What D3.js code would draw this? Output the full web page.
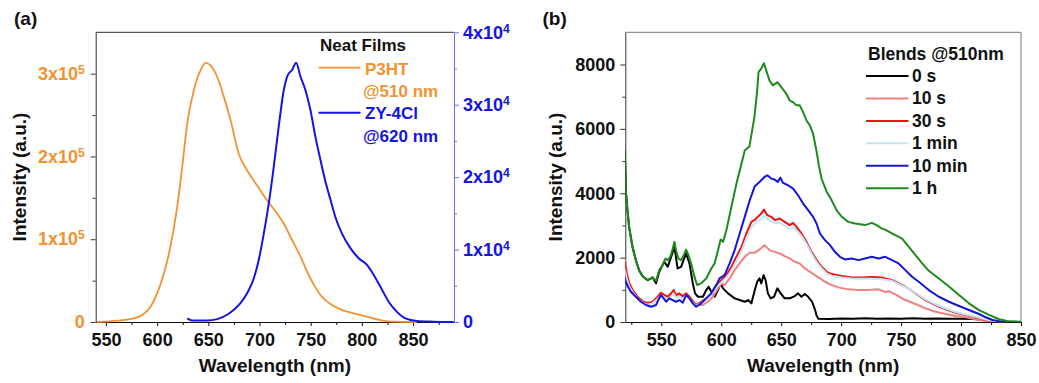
<!DOCTYPE html>
<html><head><meta charset="utf-8">
<script src="https://cdn.jsdelivr.net/npm/d3@7"></script>
<style>
body{margin:0;background:#fff}
svg text{font-family:"Liberation Sans",Arial,sans-serif;font-weight:bold}
</style>
</head><body><svg id="c" width="1039" height="383"></svg>
<script>
// ---------- Panel (a) data: neat films ----------
const p3htWl  = [541.5,561,577.3,585.5,593.6,600,606.6,613,619.6,624.5,629.4,635.9,642.4,647.3,652.1,658.7,665.2,671.7,679.8,688,697.7,707.4,717.2,723.7,730.2,740,749.7,759.5,769.3,779,792,805,818,831,853.8];
const p3htInt = [0,1600,4400,8400,18500,34600,58700,90900,139000,187000,240000,280000,304000,313000,310000,296000,272000,244000,203000,183000,165000,147000,131000,119000,103000,79000,52700,32600,21700,15300,10500,6400,2400,400,0];
const zyWl  = [629.4,634.3,648.9,658.7,668.4,674.9,681.4,688,694.4,699.3,704.2,709.1,714,718.8,723.7,727.6,731.9,735.8,740,744.9,749.7,754.6,759.5,764.4,769.3,774.1,780.6,788.8,796.9,805,811.6,818,826.2,834.3,842.5,853.8,870,889.6];
const zyInt = [500,200,200,400,1000,1700,2600,4000,6000,8600,12200,16400,21500,27000,32000,34100,34800,35800,33900,32000,29300,25600,22400,19400,16900,14500,12200,10200,8800,7900,6500,4900,2800,1400,500,140,50,0];
const xTicksA = [550,600,650,700,750,800,850];
const yTicksA = [0,100000,200000,300000];
const yTicksA2 = [0,10000,20000,30000,40000];
const legendA = ["Neat Films","P3HT","@510 nm","ZY-4Cl","@620 nm"];

// ---------- Panel (b) data: blends @510 nm ----------
const seriesNamesB = ["0 s","10 s","30 s","1 min","10 min","1 h"];
const wl0s  = [519.6,520.4,521.8,523.2,526,528.8,531.5,534.4,538.6,542.8,545.6,548.3,552.5,555.4,557.6,561,563.6,566.5,570.7,573.5,576.3,578.2,580.6,584.7,587.5,589.5,591.7,594.5,597.3,599.5,601.5,605.7,611.2,615.4,619.6,622.4,625.2,628,630,631.9,633.4,635.3,637,638.9,641.2,644,646.8,649.6,652.9,657.1,661.3,664.1,666.9,669.7,672.5,675.8,678.1,679.5,681,690,700,710,720,730,740,750,760,770,780,790,800,810,820,830];
const int0s = [5330,4090,3470,2950,2330,1920,1610,1420,1300,1380,1200,1560,1870,1715,1950,2335,1664,1715,2129,1819,1198,889,784,784,992,1096,940,784,992,1199,1044,889,734,682,629,682,579,992,1250,1354,1199,1457,1302,889,734,784,1044,889,734,734,806,889,784,868,784,629,393,200,100,90,110,100,120,100,110,100,120,100,110,100,100,90,60,10];
const wl10s  = [519.6,521.2,523.2,526,530.2,535.7,541.4,547,551.2,555.4,561,565.1,570.7,574.9,579.1,584.7,588.9,593.1,597.3,600.1,602.8,607,611.2,615.4,619.6,623.8,627.7,631.9,636.1,640.3,644.5,648.7,652.9,657.1,661.3,665.5,669.7,673.9,678.1,682.3,686.5,692.1,697.6,706,714.4,722.8,731.2,736.8,739.6,745.2,753.5,762,770.3,778.7,787.1,795.5,803.9,812.2,820.6,826.3];
const int10s = [1950,1560,1250,992,784,629,579,734,868,784,868,806,868,734,527,527,629,784,1044,1199,1147,1354,1612,1819,2025,2150,2150,2250,2388,2233,2180,2129,2046,1975,1870,1819,1665,1560,1457,1355,1250,1147,1076,1014,992,992,1014,930,960,860,682,558,424,320,248,186,146,83,31,10];
const wl30s  = [519.6,521.2,523.2,526,530.2,534.4,538.6,542.8,547,549.8,552.5,555.4,558.1,560.4,562.3,565.1,568,570.7,573.5,576.3,579.1,583.3,587.5,591.7,595.9,600.1,604.3,608.5,612.7,616.9,621,625.2,627.7,630.5,633.4,635.6,638.4,641.7,645.1,648.7,652.9,657.1,659.9,662.7,666.9,671.1,675.3,679.5,683.7,687.9,692.1,700.5,708.9,717.2,725.6,734,736.8,742.4,745.2,753.5,762,770.3,778.7,787.1,795.5,803.9,812.2,820.6,829,834.6];
const int30s = [1870,1457,1199,992,784,629,579,629,784,909,837,784,889,992,837,889,784,889,784,629,527,629,734,889,1147,1302,1457,1715,2025,2335,2750,3110,3163,3266,3370,3494,3318,3266,3163,3215,3110,3008,3080,2955,2750,2490,2180,1922,1715,1560,1488,1426,1386,1386,1400,1386,1354,1302,1250,1095,889,682,527,393,289,217,146,62,21,10];
const wl1min  = [519.6,521.2,523.2,526,530.2,534.4,538.6,542.8,547,549.8,552.5,555.4,558.1,560.4,562.3,565.1,568,570.7,573.5,576.3,579.1,583.3,587.5,591.7,595.9,600.1,604.3,608.5,612.7,616.9,621,625.2,627.7,630.5,633.4,635.6,638.4,641.7,645.1,648.7,652.9,657.1,659.9,662.7,666.9,671.1,675.3,679.5,683.7,687.9,692.1,700.5,708.9,717.2,725.6,734,742.4,745.2,753.5,762,770.3,778.7,787.1,795.5,803.9,812.2,820.6,829,836];
const int1min = [1650,1350,1120,930,740,600,540,580,720,830,770,720,790,880,760,800,720,830,730,600,500,590,690,830,1080,1230,1380,1600,1900,2200,2600,2950,3050,3130,3200,3290,3200,3150,3060,3090,2990,2900,2930,2850,2680,2430,2130,1870,1670,1510,1440,1380,1350,1340,1340,1330,1280,1230,1080,900,700,550,420,310,235,160,75,25,8];
const wl10min  = [519,520.4,522.3,524.6,528.8,533,537.2,541.4,545.6,547.5,549.8,552,554,556.7,559.6,562.3,565.1,568,570.7,573.5,576.3,579.1,583.3,587.5,591.7,595.9,598.6,602.8,607,611.2,615.4,619.6,623.8,628,631.9,636.1,638.4,641.7,644.5,647.3,649.3,651.5,655.7,659.9,664.1,668.3,672.5,676.6,679.5,682.3,686.5,690.7,694.8,699,703.2,708.9,714.4,720,725.6,731.2,736.8,742.4,747.9,753.5,759.2,764.7,773.1,781.5,789.9,798.3,806.6,815,820.6,826.3,831.8,837.4];
const int10min = [1450,1250,1095,940,784,629,527,474,527,682,837,734,629,734,682,629,682,599,837,734,579,474,579,734,890,1147,1355,1457,1819,2232,2750,3266,3783,4220,4350,4506,4558,4455,4425,4351,4486,4320,4248,4145,3938,3680,3473,3266,3059,2750,2543,2388,2180,2025,1944,1975,1922,1975,2025,1975,2025,1922,1819,1612,1405,1250,992,784,629,496,372,248,146,62,21,10];
const wl1h  = [519.6,520.4,521.8,523.2,526,528.8,531.5,534.4,538.6,541,542.8,544,545.6,548.3,551.2,553.4,555.4,557.6,559.6,561,562.3,564.3,566.5,568.8,570.7,572.1,574.9,577.7,579.9,583.3,587.5,591.7,594.5,597.3,599.5,601.5,604.3,608.5,612.7,616.9,619.6,623.5,627.7,630,631.1,633.4,635.6,637.6,640.3,643.1,646.8,650.1,654.3,657.1,659.9,662.7,665.5,668.3,671.1,673.9,676.6,679.5,681.5,683.7,687.9,692.1,696.3,700.5,706,711.6,720,725.6,730,734,736.8,742.4,745.2,750.8,756.3,762,767.6,773.1,781.5,789.9,798.3,806.6,815,823.4,831.8,840.2,850];
const int1h = [5330,4090,3470,2950,2330,1920,1610,1430,1300,1340,1400,1330,1280,1610,1770,1970,1920,2030,2280,2490,2230,1970,1920,2080,2250,2130,1820,1400,1150,1200,1350,1660,1820,2230,2560,2490,2850,3580,4300,4920,5330,5450,6370,7190,7760,7870,8040,7810,7500,7350,7450,7300,7090,6880,6830,6730,6730,6520,6260,6110,5850,5300,4850,4450,4050,3780,3470,3270,3110,3060,3010,3080,3000,2900,2870,2750,2700,2590,2340,2080,1820,1590,1350,1100,840,580,370,220,85,20,10];
const xTicksB = [550,600,650,700,750,800,850];
const yTicksB = [0,2000,4000,6000,8000];
const legendBTitle = "Blends @510nm";

// ---------- styles ----------
const orange = "#f29230", blueA = "#1414e6", blueAxis = "#6f6ff5";
const colorsB = ["#000000","#f28080","#ee1111","#c4e4f4","#1515d8","#1d8a1d"];

const svg = d3.select("#c");
const FS = 18;

function axisStyle(g, color){
  g.select(".domain").attr("stroke", color).attr("stroke-width",1);
  g.selectAll(".tick line").attr("stroke", color);
  g.selectAll("text").attr("font-size", FS).attr("fill", color).attr("font-family",'"Liberation Sans",Arial,sans-serif').attr("font-weight","bold");
}
function minorAxis(axisFn, scale, vals, transform, color){
  const g = svg.append("g").attr("transform", transform)
    .call(axisFn(scale).tickValues(vals).tickSize(3).tickFormat(""));
  g.select(".domain").remove();
  g.selectAll(".tick line").attr("stroke", color);
}
function sci(g, exp){
  g.selectAll(".tick text").each(function(d){
    const t = d3.select(this); t.text(null);
    if (d === 0) { t.text("0"); return; }
    const m = Math.round(d / Math.pow(10, exp));
    t.append("tspan").text(m + "x10");
    t.append("tspan").attr("font-size", 12).attr("dy", "-0.5em").text(exp);
  });
}

// ================= Panel (a) =================
const xA = d3.scaleLinear().domain([540,890]).range([95.7,454]);
const yA = d3.scaleLinear().domain([0,350000]).range([322,32.3]);
const yA2 = d3.scaleLinear().domain([0,40000]).range([322,32.3]);

svg.append("line").attr("x1",xA.range()[0]).attr("x2",xA.range()[1]).attr("y1",32.3).attr("y2",32.3).attr("stroke","#333");

let g;
g = svg.append("g").attr("transform","translate(0,322)")
  .call(d3.axisBottom(xA).tickValues(xTicksA).tickSize(4).tickPadding(7).tickSizeOuter(0));
axisStyle(g,"#111");
minorAxis(d3.axisBottom, xA, [575,625,675,725,775,825,875], "translate(0,322)", "#111");

g = svg.append("g").attr("transform","translate(95.7,0)")
  .call(d3.axisLeft(yA).tickValues(yTicksA).tickSize(5).tickPadding(6).tickSizeOuter(0));
axisStyle(g,"#333"); g.selectAll("text").attr("fill",orange); sci(g,5);
minorAxis(d3.axisLeft, yA, [50000,150000,250000], "translate(95.7,0)", "#333");

g = svg.append("g").attr("transform","translate(454,0)")
  .call(d3.axisRight(yA2).tickValues(yTicksA2).tickSize(5).tickPadding(4).tickSizeOuter(0));
axisStyle(g,blueAxis); g.selectAll("text").attr("fill",blueA); sci(g,4);
minorAxis(d3.axisRight, yA2, [5000,15000,25000,35000], "translate(454,0)", blueAxis);

const lineP3 = d3.line().x((d,i)=>xA(p3htWl[i])).y(d=>yA(d)).curve(d3.curveMonotoneX);
svg.append("path").attr("d", lineP3(p3htInt)).attr("fill","none").attr("stroke",orange).attr("stroke-width",1.8);
const lineZY = d3.line().x((d,i)=>xA(zyWl[i])).y(d=>yA2(d)).curve(d3.curveMonotoneX);
svg.append("path").attr("d", lineZY(zyInt)).attr("fill","none").attr("stroke",blueA).attr("stroke-width",2);

// legend (a)
const LF = 17;
svg.append("text").attr("x",320).attr("y",51).attr("font-size",LF).attr("fill","#111").text(legendA[0]);
svg.append("line").attr("x1",318.5).attr("x2",360.5).attr("y1",67.7).attr("y2",67.7).attr("stroke",orange).attr("stroke-width",1.8);
svg.append("text").attr("x",365).attr("y",74.5).attr("font-size",LF).attr("fill",orange).text(legendA[1]);
svg.append("text").attr("x",363).attr("y",96.5).attr("font-size",LF).attr("fill",orange).text(legendA[2]);
svg.append("line").attr("x1",318.5).attr("x2",360.5).attr("y1",112.8).attr("y2",112.8).attr("stroke",blueA).attr("stroke-width",2);
svg.append("text").attr("x",365).attr("y",119.3).attr("font-size",LF).attr("fill",blueA).text(legendA[3]);
svg.append("text").attr("x",363).attr("y",141.5).attr("font-size",LF).attr("fill",blueA).text(legendA[4]);

svg.append("text").attr("x",(95.7+454)/2).attr("y",371.5).attr("text-anchor","middle").attr("font-size",19).attr("fill","#111").text("Wavelength (nm)");
svg.append("text").attr("transform","translate(25.5,177) rotate(-90)").attr("text-anchor","middle").attr("font-size",19).attr("fill","#111").text("Intensity (a.u.)");
svg.append("text").attr("x",14).attr("y",24.5).attr("font-size",19).attr("fill","#111").text("(a)");

// ================= Panel (b) =================
const xB = d3.scaleLinear().domain([520,850]).range([625.3,1021]);
const yB = d3.scaleLinear().domain([0,9000]).range([322,32.3]);

svg.append("line").attr("x1",625.3).attr("x2",1021).attr("y1",32.3).attr("y2",32.3).attr("stroke","#777");
svg.append("line").attr("x1",1021).attr("x2",1021).attr("y1",32.3).attr("y2",322).attr("stroke","#777");

g = svg.append("g").attr("transform","translate(0,322)")
  .call(d3.axisBottom(xB).tickValues(xTicksB).tickSize(4).tickPadding(7).tickSizeOuter(0));
axisStyle(g,"#111");
minorAxis(d3.axisBottom, xB, [525,575,625,675,725,775,825], "translate(0,322)", "#111");

g = svg.append("g").attr("transform","translate(625.3,0)")
  .call(d3.axisLeft(yB).tickValues(yTicksB).tickFormat(d3.format("d")).tickSize(5).tickPadding(5).tickSizeOuter(0));
axisStyle(g,"#333"); g.selectAll("text").attr("fill","#111");
minorAxis(d3.axisLeft, yB, [1000,3000,5000,7000], "translate(625.3,0)", "#333");

const seriesB = [[wl0s,int0s],[wl10s,int10s],[wl30s,int30s],[wl1min,int1min],[wl10min,int10min],[wl1h,int1h]];
svg.append("clipPath").attr("id","clipB").append("rect")
  .attr("x",625.3).attr("y",32.3).attr("width",1021-625.3).attr("height",290);
seriesB.forEach(([wl,iv],k)=>{
  const ln = d3.line().x((d,i)=>xB(wl[i])).y(d=>yB(d));
  svg.append("path").attr("d", ln(iv)).attr("fill","none").attr("stroke",colorsB[k])
    .attr("stroke-width",2).attr("stroke-linejoin","round").attr("clip-path","url(#clipB)");
});

// legend (b)
const LFB = 17.5;
svg.append("text").attr("x",868).attr("y",59.5).attr("font-size",LFB).attr("fill","#111").text(legendBTitle);
seriesNamesB.forEach((nm,k)=>{
  const y = 76 + k*22.45;
  svg.append("line").attr("x1",866).attr("x2",908.5).attr("y1",y).attr("y2",y).attr("stroke",colorsB[k]).attr("stroke-width",2);
  svg.append("text").attr("x",912).attr("y",y+6).attr("font-size",LFB).attr("fill","#111").text(nm);
});

svg.append("text").attr("x",(625.3+1021)/2).attr("y",371.5).attr("text-anchor","middle").attr("font-size",19).attr("fill","#111").text("Wavelength (nm)");
svg.append("text").attr("transform","translate(562,177) rotate(-90)").attr("text-anchor","middle").attr("font-size",19).attr("fill","#111").text("Intensity (a.u.)");
svg.append("text").attr("x",542.5).attr("y",24.5).attr("font-size",19).attr("fill","#111").text("(b)");
</script></body></html>
